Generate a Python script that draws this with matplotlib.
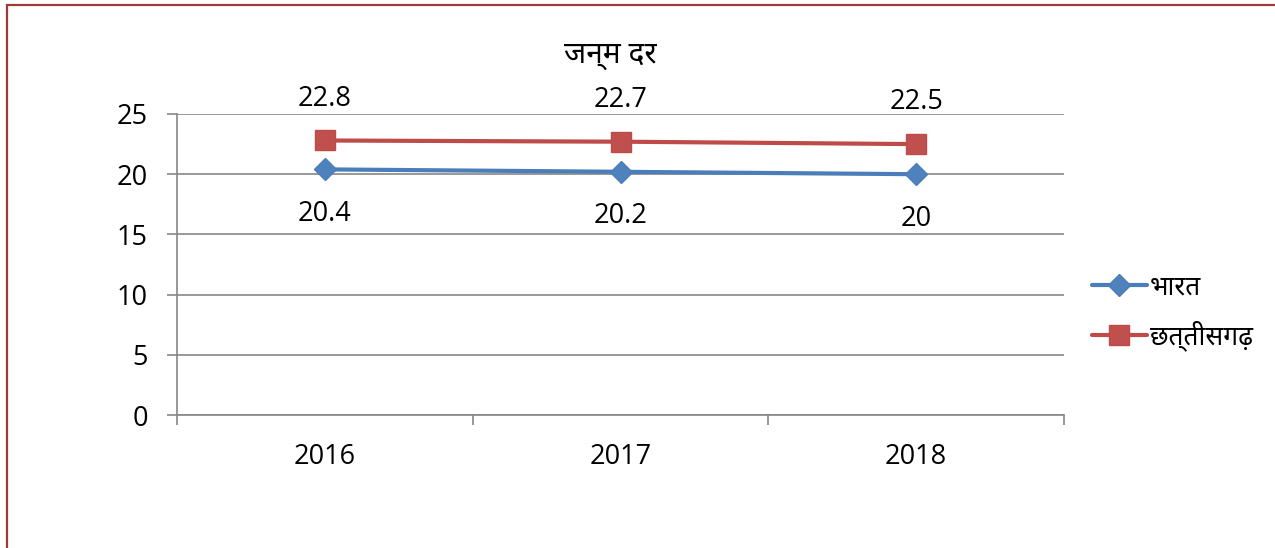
import matplotlib
matplotlib.use("Agg")
import matplotlib.pyplot as plt
from matplotlib.lines import Line2D
import numpy as np

years = ["2016", "2017", "2018"]
india = [20.4, 20.2, 20.0]
india_labels = ["20.4", "20.2", "20"]
cg = [22.8, 22.7, 22.5]
cg_labels = ["22.8", "22.7", "22.5"]
series_names = ["भारत", "छत्तीसगढ़"]
title = "जन्म दर"
yticks = [0, 5, 10, 15, 20, 25]

plt.rcParams['font.family'] = ['Open Sans', 'Noto Sans', 'DejaVu Sans']

W, H = 1275, 548
fig = plt.figure(figsize=(W / 100, H / 100), dpi=100)
ax = fig.add_axes([177 / W, 1 - 415 / H, (1064 - 177) / W, (415 - 114) / H])

blue = "#4A7EBB"
red = "#BE4B48"
x = np.arange(len(years))
fs = 19.5

ax.plot(x, india, color=blue, lw=3, marker="D", ms=11, mfc="#4F81BD", mec="#4A7EBB",
        label=series_names[0], solid_capstyle="round")
ax.plot(x, cg, color=red, lw=3, marker="s", ms=15, mfc="#C0504D", mec="#BE4B48",
        label=series_names[1], solid_capstyle="round")

for xi, v, s in zip(x, india, india_labels):
    ax.annotate(s, (xi, v), xytext=(0, -32), textcoords="offset points",
                ha="center", va="center", fontsize=fs)
for xi, v, s in zip(x, cg, cg_labels):
    ax.annotate(s, (xi, v), xytext=(0, 30), textcoords="offset points",
                ha="center", va="center", fontsize=fs)

ax.set_xlim(-0.5, len(years) - 0.5)
ax.set_ylim(0, 25)
ax.set_yticks(yticks)
ax.set_yticklabels([str(t) for t in yticks], fontsize=fs)
ax.set_xticks(x)
ax.set_xticklabels(years, fontsize=fs)
ax.tick_params(axis="x", length=0, pad=20)
ax.set_xticks(np.arange(-0.5, len(years), 1.0), minor=True)
ax.tick_params(axis="x", which="minor", length=7, color="#868686", width=1.2, direction="out")
ax.tick_params(axis="y", length=7, color="#868686", width=1.2, direction="out", pad=14)
ax.grid(axis="y", color="#868686", lw=1.2)
ax.set_axisbelow(True)
for s in ["top", "right"]:
    ax.spines[s].set_visible(False)
ax.spines["left"].set_color("#868686")
ax.spines["bottom"].set_color("#868686")
ax.spines["left"].set_linewidth(1.2)
ax.spines["bottom"].set_linewidth(1.2)

fig.text(610 / W, 1 - 55 / H, title, ha="center", va="center", fontsize=21.5)

leg = fig.legend(loc="upper left", bbox_to_anchor=(1081 / W, 1 - 265 / H), frameon=False,
                 fontsize=19, handlelength=2.1, handletextpad=0.1, labelspacing=0.75,
                 borderaxespad=0)

border = "#9E3B38"
fig.add_artist(Line2D([6.5 / W, 6.5 / W], [0, 1 - 4 / H], color=border, lw=1.6,
                      transform=fig.transFigure, solid_capstyle="butt"))
fig.add_artist(Line2D([5.5 / W, 1], [1 - 5 / H, 1 - 5 / H], color=border, lw=1.6,
                      transform=fig.transFigure, solid_capstyle="butt"))

fig.savefig("out.png", dpi=100)
